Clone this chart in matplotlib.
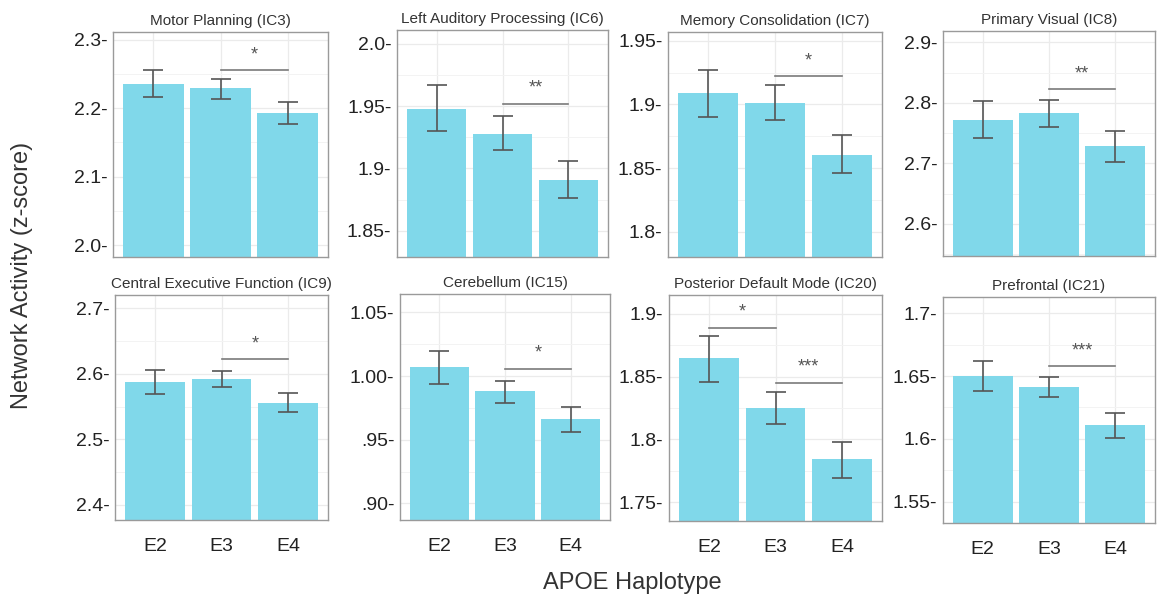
import matplotlib.pyplot as plt
import numpy as np

plt.rcParams['font.family'] = ['Liberation Sans', 'DejaVu Sans']

# data
groups = ['E2', 'E3', 'E4']

titles = ['Motor Planning (IC3)', 'Left Auditory Processing (IC6)',
          'Memory Consolidation (IC7)', 'Primary Visual (IC8)',
          'Central Executive Function (IC9)', 'Cerebellum (IC15)',
          'Posterior Default Mode (IC20)', 'Prefrontal (IC21)']

means = [[2.235, 2.229, 2.193],
         [1.948, 1.928, 1.891],
         [1.909, 1.901, 1.860],
         [2.772, 2.783, 2.729],
         [2.587, 2.592, 2.556],
         [1.007, 0.988, 0.966],
         [1.865, 1.825, 1.784],
         [1.650, 1.641, 1.611]]

err_low = [[2.216, 2.214, 2.177],
           [1.930, 1.915, 1.876],
           [1.890, 1.888, 1.846],
           [2.742, 2.761, 2.703],
           [2.569, 2.579, 2.541],
           [0.994, 0.979, 0.956],
           [1.846, 1.812, 1.769],
           [1.638, 1.633, 1.601]]

err_high = [[2.255, 2.243, 2.209],
            [1.967, 1.942, 1.906],
            [1.927, 1.915, 1.876],
            [2.803, 2.805, 2.753],
            [2.606, 2.604, 2.570],
            [1.020, 0.996, 0.976],
            [1.882, 1.838, 1.798],
            [1.662, 1.649, 1.621]]

ytick_values = [[2.3, 2.2, 2.1, 2.0],
                [2.0, 1.95, 1.9, 1.85],
                [1.95, 1.9, 1.85, 1.8],
                [2.9, 2.8, 2.7, 2.6],
                [2.7, 2.6, 2.5, 2.4],
                [1.05, 1.00, 0.95, 0.90],
                [1.9, 1.85, 1.8, 1.75],
                [1.7, 1.65, 1.6, 1.55]]

ytick_labels = [['2.3-', '2.2-', '2.1-', '2.0-'],
                ['2.0-', '1.95-', '1.9-', '1.85-'],
                ['1.95-', '1.9-', '1.85-', '1.8-'],
                ['2.9-', '2.8-', '2.7-', '2.6-'],
                ['2.7-', '2.6-', '2.5-', '2.4-'],
                ['1.05-', '1.00-', '.95-', '.90-'],
                ['1.9-', '1.85-', '1.8-', '1.75-'],
                ['1.7-', '1.65-', '1.6-', '1.55-']]

y_limits = [(1.983, 2.311), (1.829, 2.011), (1.780, 1.957), (2.547, 2.919),
            (2.377, 2.720), (0.887, 1.0645), (1.735, 1.915), (1.533, 1.713)]

# significance brackets: (panel, from group, to group, height, stars)
sig_panel = [0, 1, 2, 3, 4, 5, 6, 6, 7]
sig_from = [1, 1, 1, 1, 1, 1, 0, 1, 1]
sig_to = [2, 2, 2, 2, 2, 2, 1, 2, 2]
sig_height = [2.255, 1.952, 1.922, 2.823, 2.622, 1.0057, 1.889, 1.845, 1.658]
sig_stars = ['*', '**', '*', '**', '*', '*', '*', '***', '***']

# axes boxes in pixels (left, top, right, bottom)
W, H = 1162, 603
boxes = [(113, 32, 328, 257), (397, 30, 608, 257), (668, 32, 882, 257), (943, 31, 1155, 256),
         (115, 295, 328, 520), (400, 294, 610, 520), (669, 295, 882, 521), (943, 297, 1155, 523)]

bar_color = '#80d8ea'
err_color = '#555555'

fig = plt.figure(figsize=(W / 100, H / 100), dpi=100)

x = np.arange(1, 4)
for k in range(8):
    l, t, r, b = boxes[k]
    ax = fig.add_axes([l / W, 1 - b / H, (r - l) / W, (b - t) / H])
    lo, hi = y_limits[k]
    m = np.array(means[k])
    ax.bar(x, m - lo, bottom=lo, width=0.9, color=bar_color, zorder=2)
    yerr = [m - np.array(err_low[k]), np.array(err_high[k]) - m]
    ax.errorbar(x, m, yerr=yerr, fmt='none', ecolor=err_color, elinewidth=1.2,
                capsize=7.5, capthick=1.2, zorder=3)

    ticks = ytick_values[k]
    step = abs(ticks[0] - ticks[1])
    minor = [v + step / 2 for v in ticks] + [ticks[-1] - step / 2]
    ax.set_yticks(ticks, labels=ytick_labels[k])
    ax.set_yticks(minor, minor=True)
    ax.set_xticks(x, labels=groups if k >= 4 else [])
    ax.set_xlim(0.4, 3.6)
    ax.set_ylim(lo, hi)

    ax.tick_params(axis='both', which='both', length=0)
    ax.tick_params(axis='y', labelsize=14, pad=4, labelcolor='#222222')
    ax.tick_params(axis='x', labelsize=14, pad=13, labelcolor='#222222')
    ax.grid(True, which='major', color='#ebebeb', linewidth=0.9, zorder=0)
    ax.grid(True, which='minor', axis='y', color='#f3f3f3', linewidth=0.7, zorder=0)
    ax.set_axisbelow(True)
    for sp in ax.spines.values():
        sp.set_color('#9a9a9a')
        sp.set_linewidth(1.0)

    ax.set_title(titles[k], fontsize=11, color='#333333', pad=5)

for i in range(len(sig_panel)):
    ax = fig.axes[sig_panel[i]]
    x0, x1 = sig_from[i] + 1, sig_to[i] + 1
    yh = sig_height[i]
    ax.plot([x0, x1], [yh, yh], color='#7a7a7a', linewidth=1.2, zorder=4)
    ax.annotate(sig_stars[i], xy=((x0 + x1) / 2, yh), xytext=(0, 5),
                textcoords='offset points', ha='center', va='bottom',
                fontsize=13, color='#555555')

fig.text(22 / W, 1 - 275 / H, 'Network Activity (z-score)', rotation=90,
         ha='center', va='center', fontsize=17, color='#333333')
fig.text(632 / W, 1 - 583 / H, 'APOE Haplotype', ha='center', va='center',
         fontsize=17, color='#333333')

plt.savefig('out.png', dpi=100)
